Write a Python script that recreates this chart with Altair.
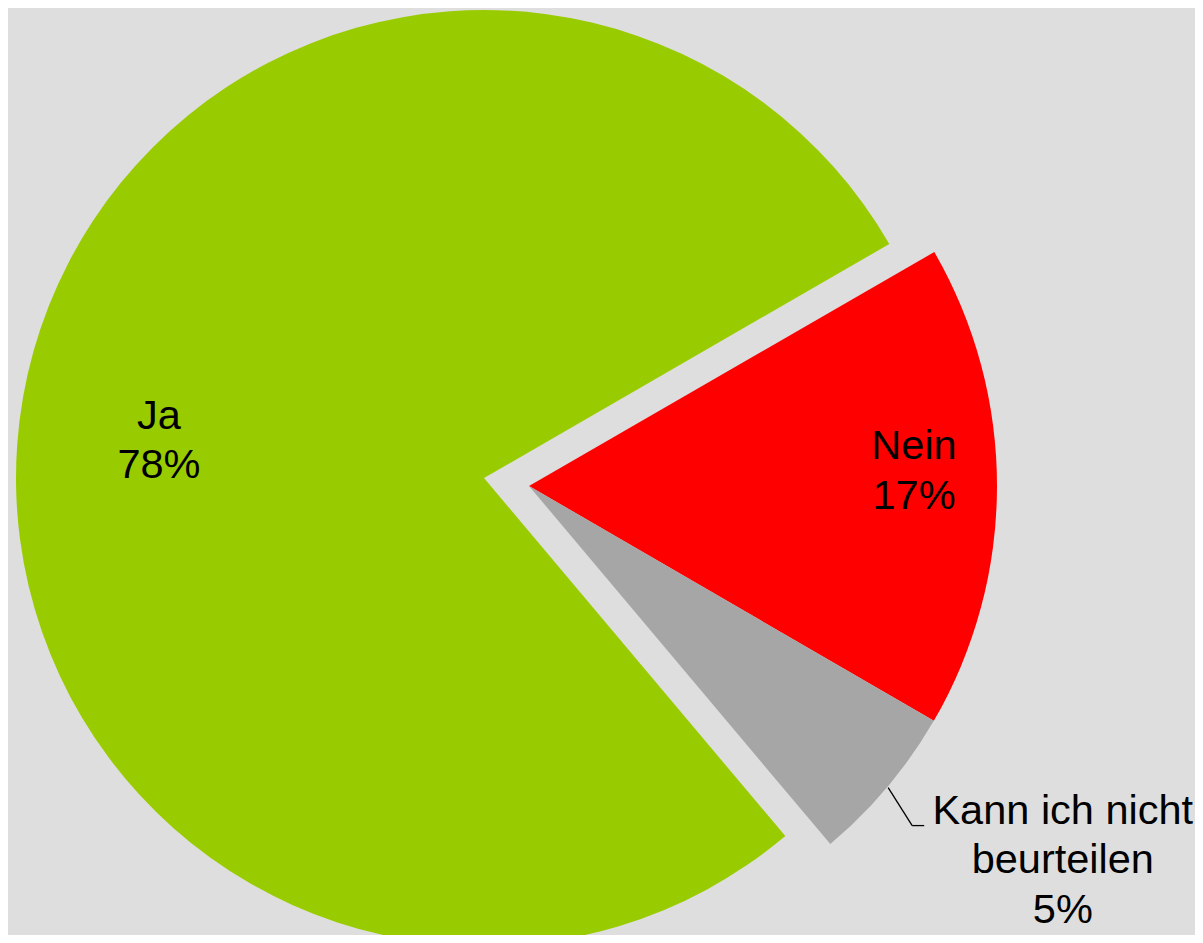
import math
import altair as alt
import pandas as pd

# ---- data ----
categories = ["Nein", "Kann ich nicht beurteilen", "Ja"]
values = [16.7, 5.5, 77.8]
labels = ["Nein\n17%", "Kann ich nicht\nbeurteilen\n5%", "Ja\n78%"]

# ---- styles ----
colors = ["#FF0000", "#A6A6A6", "#99CC00"]
BG = "#DEDEDE"
FONT = "Liberation Sans"
FS = 41.5
LH = 49.5
R = 468
GX, GY = 476, 470     # centre of the exploded "Ja" slice
RX, RY = 521, 478     # centre of the other two slices
START = math.pi / 3   # first slice begins at 2 o'clock

df = pd.DataFrame({
    "category": categories,
    "value": values,
    "label": labels,
    "order": list(range(len(categories))),
})

theta_scale = alt.Scale(domain=[0, 1], range=[START, START + 2 * math.pi])
color = alt.Color("category:N", scale=alt.Scale(domain=categories, range=colors), legend=None)

base = (
    alt.Chart(df)
    .transform_joinaggregate(total="sum(value)")
    .transform_window(cum="sum(value)", sort=[alt.SortField("order")], frame=[None, 0])
    .transform_calculate(t0="(datum.cum - datum.value) / datum.total")
    .transform_calculate(t1="datum.cum / datum.total")
    .transform_calculate(tm="(datum.cum - datum.value / 2) / datum.total")
)

is_ja = "datum.category == 'Ja'"
is_nein = "datum.category == 'Nein'"
is_kann = "datum.category == 'Kann ich nicht beurteilen'"

green = base.transform_filter(is_ja).mark_arc(radius=R).encode(
    theta=alt.Theta("t0:Q", scale=theta_scale),
    theta2="t1:Q",
    color=color,
    x=alt.value(GX), y=alt.value(GY),
)
others = base.transform_filter("!(" + is_ja + ")").mark_arc(radius=R).encode(
    theta=alt.Theta("t0:Q", scale=theta_scale),
    theta2="t1:Q",
    color=color,
    x=alt.value(RX), y=alt.value(RY),
)

txt = dict(fontSize=FS, lineHeight=LH, font=FONT, lineBreak="\n", color="black",
           align="center", baseline="middle")

ja_text = base.transform_filter(is_ja).mark_text(radius=330, dy=-4, **txt).encode(
    theta=alt.Theta("tm:Q", scale=theta_scale), text="label:N",
    x=alt.value(GX), y=alt.value(GY),
)
nein_text = base.transform_filter(is_nein).mark_text(radius=385, dy=-39, **txt).encode(
    theta=alt.Theta("tm:Q", scale=theta_scale), text="label:N",
    x=alt.value(RX), y=alt.value(RY),
)
kann_text = base.transform_filter(is_kann).mark_text(radius=650, dx=36, dy=-92, **txt).encode(
    theta=alt.Theta("tm:Q", scale=theta_scale), text="label:N",
    x=alt.value(RX), y=alt.value(RY),
)

leader = (
    base.transform_filter(is_kann)
    .transform_calculate(ang=f"{START} + 2 * PI * datum.tm")
    .transform_calculate(lx1=f"{RX} + {R + 1} * sin(datum.ang)")
    .transform_calculate(ly1=f"{RY} - {R + 1} * cos(datum.ang)")
    .transform_calculate(lx2="datum.lx1 + 24")
    .transform_calculate(ly2="datum.ly1 + 38")
    .transform_calculate(lx3="datum.lx2 + 12")
)
rule1 = leader.mark_rule(color="black", strokeWidth=1.3).encode(
    x=alt.X("lx1:Q", scale=None, axis=None),
    y=alt.Y("ly1:Q", scale=None, axis=None),
    x2="lx2:Q", y2="ly2:Q",
)
rule2 = leader.mark_rule(color="black", strokeWidth=1.3).encode(
    x=alt.X("lx2:Q", scale=None, axis=None),
    y=alt.Y("ly2:Q", scale=None, axis=None),
    x2="lx3:Q", y2="ly2:Q",
)

chart = (
    alt.layer(green, others, rule1, rule2, ja_text, nein_text, kann_text)
    .properties(width=1187, height=927, background=BG, padding=0,
                autosize=alt.AutoSizeParams(type="none"))
    .configure_view(stroke=None)
)

chart.save("out.html", embed_options={"renderer": "svg", "actions": False})
